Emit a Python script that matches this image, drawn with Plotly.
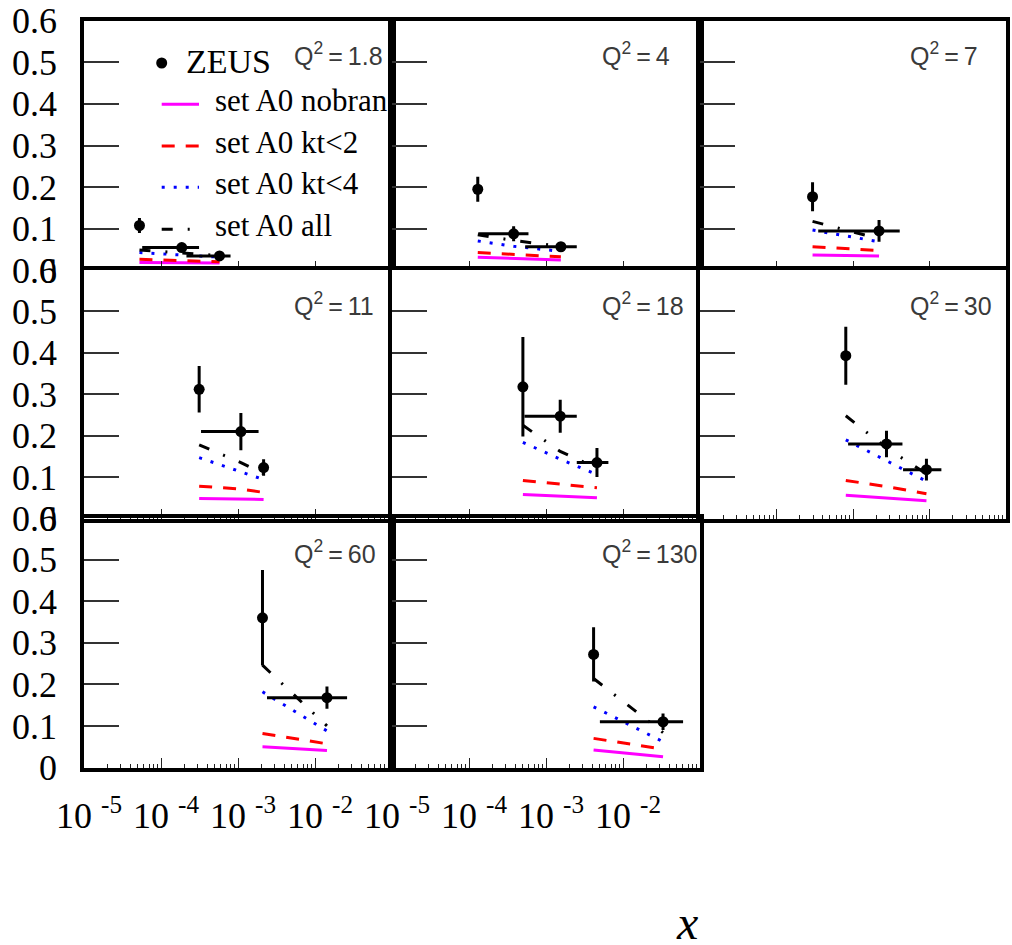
import plotly.graph_objects as go

# Q^2 bins (GeV^2), one panel each
Q2_LABELS = ["1.8", "4", "7", "11", "18", "30", "60", "130"]

# ZEUS measurements: x position, value, stat. error, bin edges in x
X_ZEUS = [
    [5.25e-5, 1.86e-4, 5.75e-4],
    [1.30e-4, 3.80e-4, 1.56e-3],
    [2.96e-4, 2.19e-3],
    [3.13e-4, 1.09e-3, 2.15e-3],
    [5.01e-4, 1.53e-3, 4.59e-3],
    [8.05e-4, 2.74e-3, 9.12e-3],
    [2.08e-3, 1.43e-2],
    [4.15e-3, 3.31e-2],
]
Y_ZEUS = [
    [0.108, 0.055, 0.035],
    [0.195, 0.088, 0.057],
    [0.177, 0.095],
    [0.312, 0.210, 0.123],
    [0.318, 0.247, 0.135],
    [0.393, 0.180, 0.118],
    [0.360, 0.168],
    [0.272, 0.110],
]
YERR_ZEUS = [
    [0.018, 0.006, 0.005],
    [0.030, 0.018, 0.007],
    [0.035, 0.026],
    [0.056, 0.045, 0.020],
    [0.120, 0.040, 0.035],
    [0.070, 0.032, 0.026],
    [0.115, 0.027],
    [0.065, 0.020],
]
XLO_ZEUS = [
    [4.90e-5, 5.70e-5, 2.14e-4],
    [1.30e-4, 1.32e-4, 5.37e-4],
    [2.96e-4, 3.51e-4],
    [3.13e-4, 3.31e-4, 2.15e-3],
    [5.01e-4, 5.25e-4, 2.51e-3],
    [8.05e-4, 8.63e-4, 4.51e-3],
    [2.08e-3, 2.38e-3],
    [4.15e-3, 5.01e-3],
]
XHI_ZEUS = [
    [5.60e-5, 3.12e-4, 8.00e-4],
    [1.30e-4, 5.92e-4, 2.51e-3],
    [2.96e-4, 4.08e-3],
    [3.13e-4, 1.85e-3, 2.15e-3],
    [5.01e-4, 2.51e-3, 6.46e-3],
    [8.05e-4, 4.43e-3, 1.43e-2],
    [2.08e-3, 2.61e-2],
    [4.15e-3, 6.03e-2],
]

# Model predictions evaluated at the ZEUS x points
SET_A0_NOBRANCH = [
    [0.019, 0.019, 0.018],
    [0.032, 0.029, 0.025],
    [0.037, 0.035],
    [0.048, 0.047, 0.046],
    [0.058, 0.054, 0.050],
    [0.056, 0.050, 0.043],
    [0.050, 0.041],
    [0.042, 0.026],
]
SET_A0_KT2 = [
    [0.027, 0.024, 0.021],
    [0.043, 0.038, 0.033],
    [0.057, 0.048],
    [0.078, 0.071, 0.063],
    [0.092, 0.083, 0.074],
    [0.092, 0.077, 0.060],
    [0.082, 0.057],
    [0.070, 0.044],
]
SET_A0_KT4 = [
    [0.043, 0.037, 0.032],
    [0.071, 0.058, 0.046],
    [0.097, 0.069],
    [0.147, 0.112, 0.094],
    [0.184, 0.143, 0.106],
    [0.190, 0.140, 0.090],
    [0.182, 0.088],
    [0.146, 0.062],
]
SET_A0_ALL = [
    [0.049, 0.042, 0.036],
    [0.086, 0.072, 0.058],
    [0.118, 0.076],
    [0.178, 0.135, 0.108],
    [0.225, 0.162, 0.122],
    [0.248, 0.170, 0.108],
    [0.246, 0.100],
    [0.214, 0.084],
]

Y_TICKS = [0, 0.1, 0.2, 0.3, 0.4, 0.5, 0.6]
Y_TICK_TEXT = ["0", "0.1", "0.2", "0.3", "0.4", "0.5", "0.6"]
X_DECADES = [1e-5, 1e-4, 1e-3, 1e-2, 1e-1]
X_DECADE_TEXT = ["10 <sup>-5</sup>", "10 <sup>-4</sup>", "10 <sup>-3</sup>", "10 <sup>-2</sup>", ""]

W, H = 1012, 945
COL_EDGES = [(84, 392), (392, 700), (700, 1006)]
ROW_EDGES = [(20.5, 270.5), (270, 518.5), (518, 767.5)]

SERIF = "Liberation Serif, Times New Roman, serif"
SANS = "Liberation Sans, Arial, sans-serif"

CURVE_STYLES = [
    ("#ff00ff", "solid"),
    ("#ff0000", "13px,11px"),
    ("#0000ff", "3px,9px"),
    ("#000000", "11px,15px,2px,15px"),
]


def fx(p):
    return p / W


def fy(p):
    return 1 - p / H


minor_vals = [m * d for d in X_DECADES[:-1] for m in range(2, 10)]

fig = go.Figure()
layout = {}
annotations = []
shapes = []

for i, q2 in enumerate(Q2_LABELS):
    r, c = divmod(i, 3)
    sfx = "" if i == 0 else str(i + 1)
    xa, ya = "x" + sfx, "y" + sfx
    x0, x1 = COL_EDGES[c]
    y0, y1 = ROW_EDGES[r]

    curves = [SET_A0_NOBRANCH[i], SET_A0_KT2[i], SET_A0_KT4[i], SET_A0_ALL[i]]
    for vals, (col, dash) in zip(curves, CURVE_STYLES):
        fig.add_trace(go.Scatter(
            x=X_ZEUS[i], y=vals, mode="lines", xaxis=xa, yaxis=ya,
            line=dict(color=col, width=3, dash=dash), showlegend=False,
            hoverinfo="skip"))

    xs = X_ZEUS[i]
    plus = [hi - x for hi, x in zip(XHI_ZEUS[i], xs)]
    minus = [x - lo for lo, x in zip(XLO_ZEUS[i], xs)]
    fig.add_trace(go.Scatter(
        x=xs, y=Y_ZEUS[i], mode="markers", xaxis=xa, yaxis=ya,
        marker=dict(color="black", size=11),
        error_x=dict(type="data", symmetric=False, array=plus, arrayminus=minus,
                     color="black", thickness=3, width=0),
        error_y=dict(type="data", array=YERR_ZEUS[i], color="black",
                     thickness=3, width=0),
        showlegend=False))

    label_x = (r == 2)
    layout["xaxis" + sfx] = dict(
        domain=[fx(x0), fx(x1)], anchor=ya, type="log", range=[-5, -1],
        tickmode="array", tickvals=X_DECADES, ticktext=X_DECADE_TEXT,
        showticklabels=label_x, ticks="inside", ticklen=10, tickwidth=1.2,
        tickcolor="#222", ticklabelstandoff=14, ticklabelshift=5,
        automargin=False,
        tickfont=dict(family=SERIF, size=36, color="black"),
        minor=dict(tickvals=minor_vals, ticks="inside", ticklen=4,
                   tickwidth=1, tickcolor="#222"),
        showline=True, linewidth=3.5, linecolor="black", mirror=True,
        showgrid=False, zeroline=False, fixedrange=True)
    layout["yaxis" + sfx] = dict(
        domain=[fy(y1), fy(y0)], anchor=xa, range=[0, 0.6],
        tickmode="array", tickvals=Y_TICKS, ticktext=Y_TICK_TEXT,
        showticklabels=(c == 0), ticks="inside", ticklen=35, tickwidth=1.5,
        tickcolor="#333", ticklabelstandoff=16, automargin=False,
        tickfont=dict(family=SERIF, size=36, color="black"),
        showline=True, linewidth=3.5, linecolor="black", mirror=True,
        showgrid=False, zeroline=False, fixedrange=True)

    annotations.append(dict(
        x=fx(x0 + 208), y=fy(y0 + 34), xref="paper", yref="paper",
        xanchor="left", yanchor="middle", showarrow=False,
        text="Q<sup>2</sup>\u2009=\u2009" + q2,
        font=dict(family=SANS, size=25, color="#3a3a3a")))

# Legend box content in the first panel
LEGEND_LABELS = ["set A0 nobran", "set A0 kt<2", "set A0 kt<4", "set A0 all"]
legend_rows = [104.3, 146, 187.3, 229.3]
shapes.append(dict(type="circle", xref="paper", yref="paper",
                   x0=fx(156.2), x1=fx(167.2), y0=fy(68.5), y1=fy(57.5),
                   fillcolor="black", line=dict(width=0)))
annotations.append(dict(x=fx(184), y=fy(62), xref="paper", yref="paper",
                        xanchor="left", yanchor="middle", showarrow=False,
                        text="ZEUS", font=dict(family=SERIF, size=34, color="black")))
for yy, lab, (col, dash) in zip(legend_rows, LEGEND_LABELS, CURVE_STYLES):
    shapes.append(dict(type="line", xref="paper", yref="paper",
                       x0=fx(161.7), x1=fx(199), y0=fy(yy), y1=fy(yy),
                       line=dict(color=col, width=3, dash=dash)))
    annotations.append(dict(x=fx(213), y=fy(yy - 4), xref="paper", yref="paper",
                            xanchor="left", yanchor="middle", showarrow=False,
                            text=lab, font=dict(family=SERIF, size=31, color="black")))

# x axis title
annotations.append(dict(x=fx(687), y=0, xref="paper", yref="paper",
                        xanchor="center", yanchor="bottom", yshift=-6,
                        showarrow=False, text="<i>x</i>",
                        font=dict(family=SERIF, size=48, color="black")))

fig.update_layout(
    width=W, height=H, margin=dict(l=0, r=0, t=0, b=0),
    paper_bgcolor="white", plot_bgcolor="white",
    annotations=annotations, shapes=shapes, **layout)

fig.write_html("out.html")
